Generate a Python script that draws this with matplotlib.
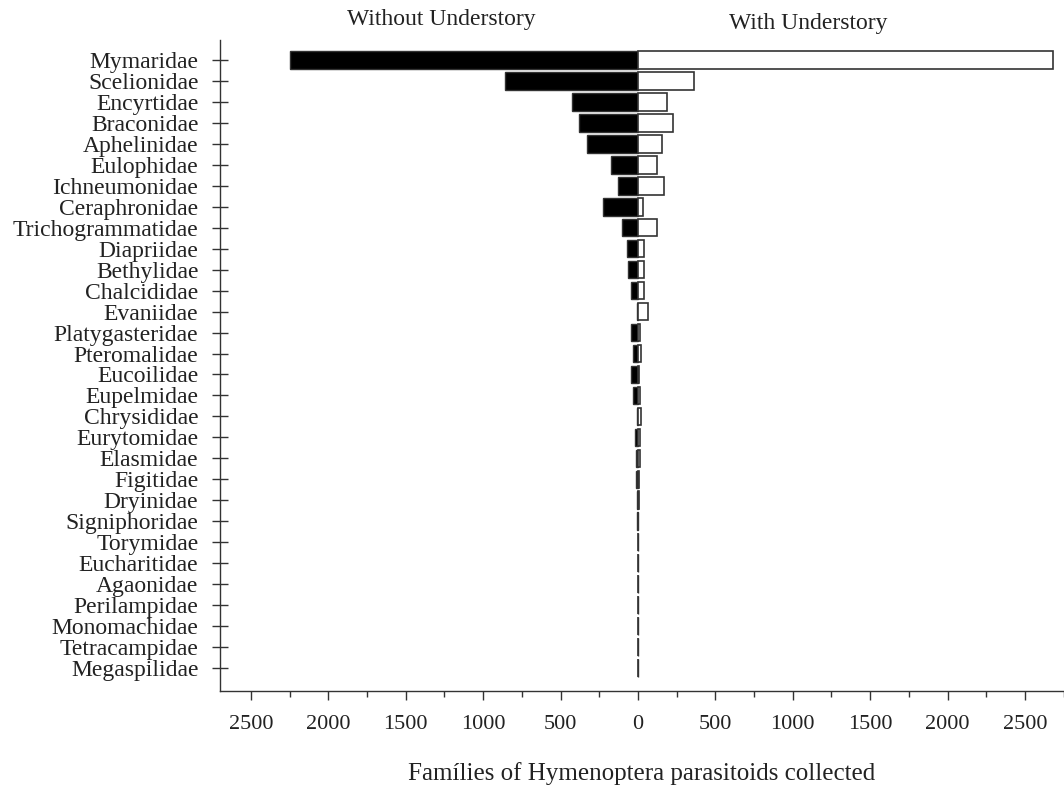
import numpy as np
import matplotlib
matplotlib.use("Agg")
import matplotlib.pyplot as plt
from matplotlib.ticker import FixedLocator, MultipleLocator, FuncFormatter

plt.rcParams['font.family'] = ['Liberation Serif', 'DejaVu Serif']

#%% data
families = ['Mymaridae', 'Scelionidae', 'Encyrtidae', 'Braconidae', 'Aphelinidae',
            'Eulophidae', 'Ichneumonidae', 'Ceraphronidae', 'Trichogrammatidae',
            'Diapriidae', 'Bethylidae', 'Chalcididae', 'Evaniidae', 'Platygasteridae',
            'Pteromalidae', 'Eucoilidae', 'Eupelmidae', 'Chrysididae', 'Eurytomidae',
            'Elasmidae', 'Figitidae', 'Dryinidae', 'Signiphoridae', 'Torymidae',
            'Eucharitidae', 'Agaonidae', 'Perilampidae', 'Monomachidae',
            'Tetracampidae', 'Megaspilidae']
without_understory = [2248, 859, 426, 384, 329, 176, 131, 225, 103, 73, 64, 43, 5,
                      43, 35, 43, 35, 5, 18, 15, 10, 5, 8, 2, 2, 2, 1, 1, 1, 1]
with_understory = [2681, 359, 187, 226, 155, 122, 168, 30, 120, 36, 36, 36, 66,
                   13, 22, 5, 15, 22, 10, 12, 5, 8, 3, 2, 2, 2, 1, 1, 1, 1]
xtick_values = [-2500, -2000, -1500, -1000, -500, 0, 500, 1000, 1500, 2000, 2500]

txt_col = '#222222'

#%%
fig = plt.figure(figsize=(10.64, 7.87), dpi=100)
ax = fig.add_axes([220 / 1064, 1 - 690.7 / 787, 1 - 220 / 1064, (690.7 - 40) / 787])

ypos = np.arange(len(families))
ax.barh(ypos, -np.array(without_understory), height=0.84, color='black',
        edgecolor='#333333', linewidth=1.0)
ax.barh(ypos, with_understory, height=0.84, color='white',
        edgecolor='#333333', linewidth=1.2)

ax.set_xlim(-2700, 2752)
ax.set_ylim(len(families) - 1 + 1.08, -0.95)

ax.set_yticks(ypos)
ax.set_yticklabels(families, fontsize=17, color=txt_col)
ax.tick_params(axis='y', direction='inout', length=12, width=1.0, pad=9.5,
               color='#333333')

ax.xaxis.set_major_locator(FixedLocator(xtick_values))
ax.xaxis.set_minor_locator(MultipleLocator(250))
ax.xaxis.set_major_formatter(FuncFormatter(lambda v, p: f'{abs(int(v))}'))
ax.tick_params(axis='x', which='major', direction='out', length=6.5, width=1.0,
               pad=11, labelsize=16, labelcolor=txt_col, color='#333333')
ax.tick_params(axis='x', which='minor', direction='out', length=4.5, width=1.0,
               color='#333333')

for side in ['top', 'right']:
    ax.spines[side].set_visible(False)
for side in ['left', 'bottom']:
    ax.spines[side].set_color('#333333')
    ax.spines[side].set_linewidth(1.0)

ax.set_xlabel('Famílies of Hymenoptera parasitoids collected', fontsize=18,
              color=txt_col, labelpad=20)

fig.text(441 / 1064, 1 - 20 / 787, 'Without Understory', fontsize=17,
         color=txt_col, ha='center', va='center')
fig.text(808 / 1064, 1 - 24 / 787, 'With Understory', fontsize=17,
         color=txt_col, ha='center', va='center')

fig.savefig('out.png', dpi=100)
